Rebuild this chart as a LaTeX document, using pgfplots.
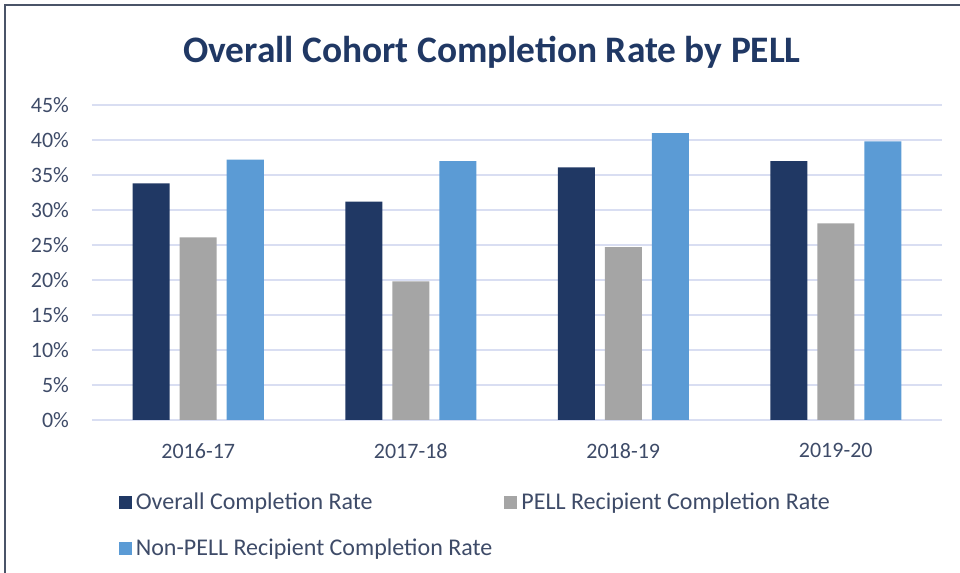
\documentclass[border=0pt]{standalone}
\usepackage{pgfplots}
\pgfplotsset{compat=1.18}
\usepackage{fontspec}
\setmainfont{Carlito}
\definecolor{darkblue}{HTML}{203864}
\definecolor{pellgray}{HTML}{A5A5A5}
\definecolor{lightblue}{HTML}{5B9BD5}
\definecolor{gridcol}{HTML}{D9DEF2}
\definecolor{framecol}{HTML}{4A5468}
\definecolor{legtext}{HTML}{3E4B68}

\begin{document}
\begin{tikzpicture}
\useasboundingbox (0,0) rectangle (480pt,286.5pt);
\draw[line width=1pt,framecol] (2.5pt,0) -- (2.5pt,284pt) -- (480pt,284pt);
\node[font=\bfseries\fontsize{18.7}{22}\selectfont,text=darkblue] at (246pt,260.5pt) {Overall Cohort Completion Rate by PELL};
\begin{axis}[
  at={(46pt,76.5pt)},anchor=south west,
  scale only axis,width=425pt,height=157.5pt,
  xmin=-0.5,xmax=3.5,ymin=0,ymax=45,
  xtick={0,1,2,3},xticklabels={2016-17,2017-18,2018-19,2019-20},
  ytick={0,5,...,45},
  yticklabel={\pgfmathprintnumber{\tick}\%},
  /pgf/number format/assume math mode=true,
  ticklabel style={font=\fontsize{11}{13}\selectfont,text=legtext},
  xticklabel style={yshift=-4pt},
  yticklabel style={xshift=-8pt},
  ymajorgrids,grid style={gridcol,line width=0.8pt},
  axis line style={draw=none},tick style={draw=none},
  ybar=5pt,bar width=18.5pt,
  legend columns=2,
  legend cell align=left,
  legend style={at={(0.024,-0.205)},anchor=north west,draw=none,fill=none,
    font=\fontsize{12}{14}\selectfont,text=legtext,row sep=9pt,
    /tikz/every even column/.append style={column sep=4pt}},
  legend image code/.code={\fill[#1] (0pt,-3.2pt) rectangle (6.5pt,3.3pt);},
]
\addplot[fill=darkblue,draw=none] coordinates {(0,33.8) (1,31.2) (2,36.1) (3,37.0)};
\addplot[fill=pellgray,draw=none] coordinates {(0,26.1) (1,19.8) (2,24.7) (3,28.1)};
\addplot[fill=lightblue,draw=none] coordinates {(0,37.2) (1,37.0) (2,41.0) (3,39.8)};
\legend{Overall Completion Rate,PELL Recipient Completion Rate,Non-PELL Recipient Completion Rate}
\end{axis}
\end{tikzpicture}
\end{document}
